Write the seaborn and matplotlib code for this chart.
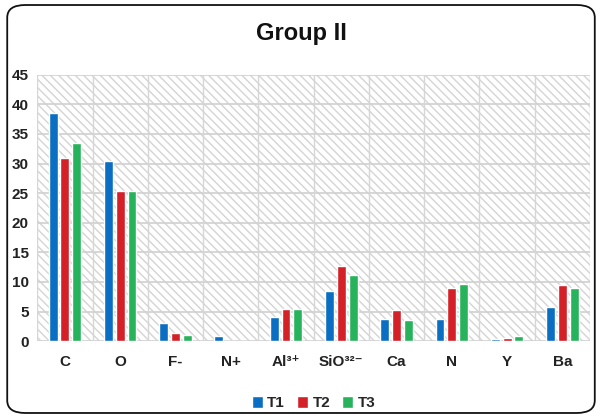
import matplotlib
matplotlib.use("Agg")
import matplotlib.pyplot as plt
from matplotlib.patches import Rectangle, FancyBboxPatch
import seaborn as sns
import pandas as pd

categories = ["C", "O", "F-", "N+", "Al³⁺", "SiO³²⁻", "Ca", "N", "Y", "Ba"]
t1 = [38.6, 30.5, 3.0, 0.8, 4.1, 8.4, 3.8, 3.8, 0.3, 5.7]
t2 = [31.0, 25.4, 1.3, 0.0, 5.5, 12.7, 5.3, 8.9, 0.5, 9.4]
t3 = [33.5, 25.4, 1.0, 0.0, 5.5, 11.2, 3.5, 9.7, 0.8, 8.9]
series = ["T1", "T2", "T3"]
colors = ["#0a6fc2", "#d42027", "#27b35c"]

df = pd.DataFrame({
    "element": categories * 3,
    "value": t1 + t2 + t3,
    "series": [s for s in series for _ in categories],
})

sns.set_theme(style="white")
plt.rcParams["font.family"] = ["Liberation Sans Narrow", "Liberation Sans", "DejaVu Sans"]

fig = plt.figure(figsize=(6.02, 4.18), dpi=100)
ax = fig.add_axes([0.062, 0.184, 0.918, 0.637])

# hatched plot-area background
ax.add_patch(Rectangle((0, 0), 1, 1, transform=ax.transAxes, facecolor="white",
                       edgecolor="#d4d4d4", hatch="\\\\\\\\", linewidth=0, zorder=0))

sns.barplot(data=df, x="element", y="value", hue="series", palette=colors,
            width=0.64, gap=0.24, ax=ax, zorder=3, saturation=1, legend=True)

ax.set_ylim(0, 45)
ax.set_xlim(-0.5, len(categories) - 0.5)
ax.set_yticks(range(0, 46, 5))
for y in range(0, 46, 5):
    ax.axhline(y, color="#d0d0d0", linewidth=1.2, zorder=1)
for x in range(len(categories) + 1):
    ax.axvline(x - 0.5, color="#d6d6d6", linewidth=1.0, zorder=1)
for s in ax.spines.values():
    s.set_visible(False)
ax.set_xlabel("")
ax.set_ylabel("")
ax.tick_params(axis="both", length=0, labelsize=11, colors="#222222")
ax.tick_params(axis="x", pad=10)
ax.tick_params(axis="y", pad=6)
for lab in ax.get_xticklabels() + ax.get_yticklabels():
    lab.set_fontweight("bold")

leg = ax.legend(loc="center", bbox_to_anchor=(0.5, -0.232),
                ncol=3, frameon=False, handlelength=0.7, handleheight=0.9,
                handletextpad=0.3, columnspacing=0.8, fontsize=11)
for t in leg.get_texts():
    t.set_fontweight("bold")

fig.text(0.5, 0.92, "Group II", ha="center", va="center", fontsize=17, fontweight="bold",
         color="#111111")

# rounded outer frame
fig.patches.append(FancyBboxPatch((0.012, 0.012), 0.976, 0.976, transform=fig.transFigure,
                                  boxstyle="round,pad=0,rounding_size=0.03",
                                  facecolor="none", edgecolor="#111111", linewidth=1.3))

fig.savefig("out.png", dpi=100)
